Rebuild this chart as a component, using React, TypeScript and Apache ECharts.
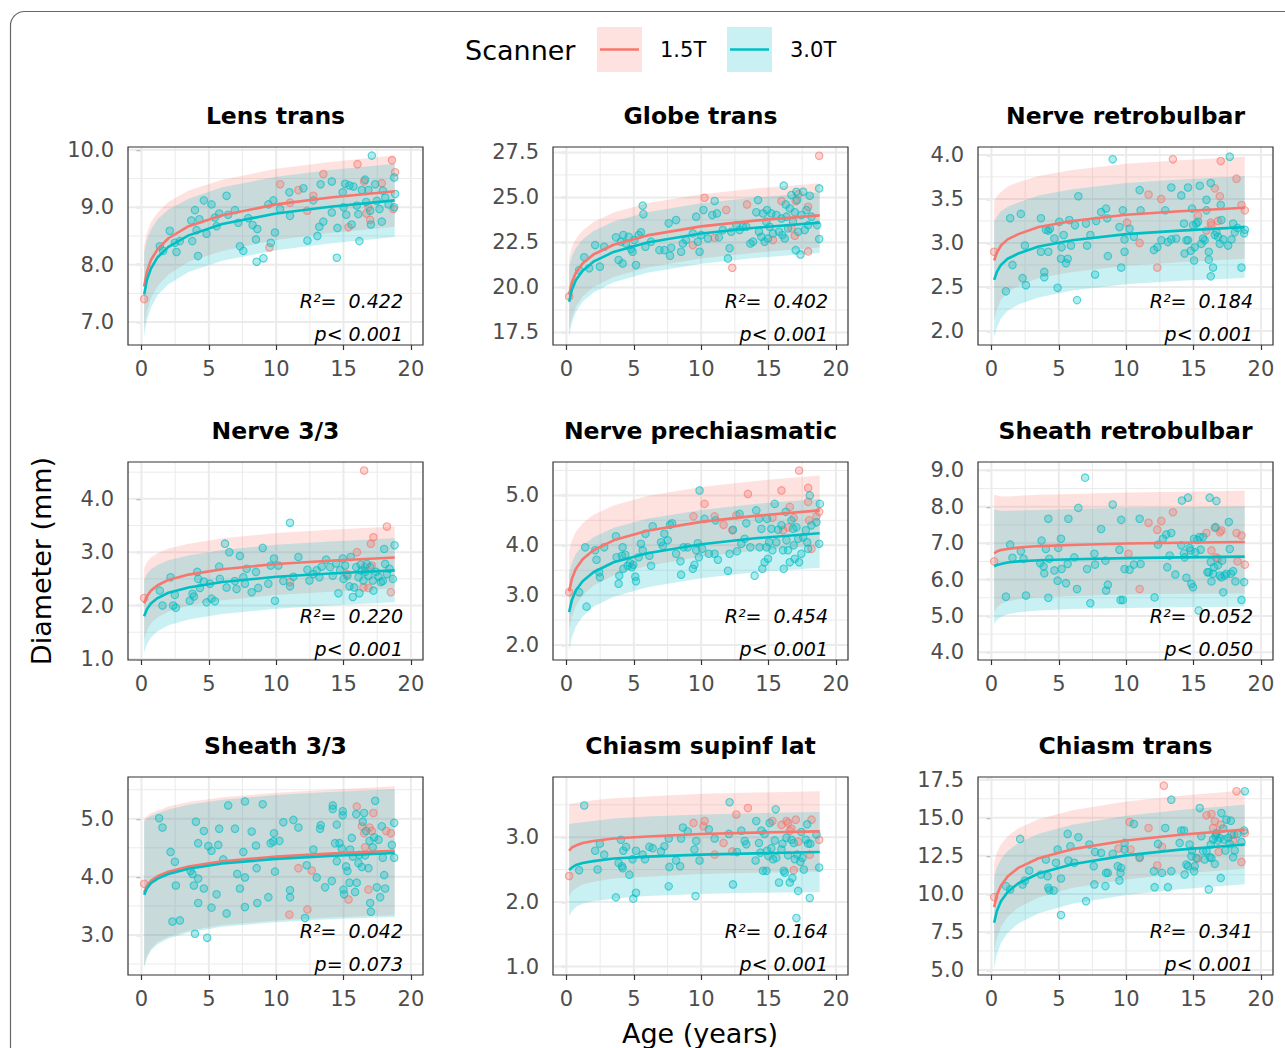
import React, { useEffect, useRef } from "react";
import * as echarts from "echarts";

const FONT = "'DejaVu Sans', 'Noto Sans', sans-serif";
const RED = "#F8766D";
const TEAL = "#00BFC4";
const RED_BAND = "rgba(248,118,109,0.21)";
const TEAL_BAND = "rgba(0,191,196,0.21)";

// ---------- shared axes ----------
const AGES = [0.2, 0.4, 0.7, 1.2, 2, 3.5, 6, 10, 14, 18.8];
const X_TICKS = [0, 5, 10, 15, 20];
const X_RANGE = [-1.0, 20.9];

// ---------- Lens trans ----------
const LENS_RANGE = [6.6, 10.05];
const LENS_TICKS = [7, 8, 9, 10];
const LENS_F15 = [7.62, 7.87, 8.08, 8.27, 8.46, 8.67, 8.86, 9.05, 9.17, 9.28];
const LENS_L15 = [6.91, 7.19, 7.42, 7.63, 7.83, 8.05, 8.24, 8.43, 8.55, 8.66];
const LENS_H15 = [8.33, 8.55, 8.74, 8.91, 9.09, 9.29, 9.48, 9.67, 9.79, 9.9];
const LENS_F30 = [7.48, 7.73, 7.93, 8.13, 8.31, 8.51, 8.71, 8.89, 9.01, 9.12];
const LENS_L30 = [6.74, 7.03, 7.25, 7.47, 7.66, 7.87, 8.07, 8.25, 8.37, 8.48];
const LENS_H30 = [8.22, 8.43, 8.61, 8.79, 8.96, 9.15, 9.35, 9.53, 9.65, 9.76];
const LENS_P15 = [[0.2,7.4],[9.5,8.3],[10.3,9.4],[11.03,9.08],[11.65,9.3],[12.3,8.94],[12.76,9.2],[13.5,9.58],[15.37,8.65],[16.04,9.75],[16.53,9.45],[16.85,9.0],[16.98,8.78],[17.84,9.42],[18.6,9.82],[18.83,9.61],[18.7,8.97],[16.7,8.89]];
const LENS_P30 = [[1.36,8.32],[1.61,8.24],[2.1,8.59],[2.48,8.38],[2.6,8.22],[2.85,8.41],[3.7,8.77],[3.77,8.41],[3.97,8.95],[4.09,8.6],[4.2,8.15],[4.3,8.79],[4.63,9.12],[4.83,8.54],[5.2,9.05],[5.45,8.82],[5.58,8.67],[5.77,8.89],[6.32,9.2],[6.44,8.87],[6.94,8.95],[7.19,8.73],[7.31,8.32],[7.56,8.24],[7.93,8.81],[8.25,8.69],[8.5,8.44],[8.55,8.05],[8.6,8.62],[9.05,8.11],[9.42,9.05],[9.6,8.38],[9.79,9.12],[9.91,8.56],[10.29,8.97],[10.98,9.26],[11.03,8.85],[12.02,9.33],[12.32,8.42],[12.76,9.12],[13.06,8.5],[13.2,8.66],[13.3,9.4],[13.5,8.75],[14.13,9.45],[14.13,8.91],[14.5,8.12],[14.55,8.64],[14.94,9.26],[15.0,9.0],[15.12,9.41],[15.2,8.87],[15.44,9.38],[15.6,8.7],[15.74,9.36],[15.98,9.03],[16.1,8.88],[16.18,8.41],[16.36,9.3],[16.6,9.48],[16.68,9.09],[16.85,9.3],[16.98,8.94],[17.03,8.7],[17.1,9.9],[17.35,9.4],[17.47,9.11],[17.67,8.97],[17.84,8.75],[17.92,9.29],[18.1,9.17],[18.34,9.05],[18.76,9.52],[18.76,9.0],[18.83,9.23]];

// ---------- Globe trans ----------
const GLOBE_RANGE = [16.8, 27.8];
const GLOBE_TICKS = [17.5, 20, 22.5, 25, 27.5];
const GLOBE_F15 = [19.6, 20.27, 20.81, 21.33, 21.83, 22.37, 22.89, 23.39, 23.71, 24.0];
const GLOBE_L15 = [17.55, 18.31, 18.92, 19.5, 20.02, 20.58, 21.11, 21.61, 21.93, 22.21];
const GLOBE_H15 = [21.65, 22.23, 22.7, 23.16, 23.64, 24.16, 24.67, 25.17, 25.49, 25.79];
const GLOBE_F30 = [19.2, 19.87, 20.41, 20.93, 21.43, 21.97, 22.49, 22.99, 23.31, 23.6];
const GLOBE_L30 = [17.27, 18.02, 18.63, 19.2, 19.72, 20.28, 20.81, 21.31, 21.63, 21.91];
const GLOBE_H30 = [21.13, 21.72, 22.19, 22.66, 23.14, 23.66, 24.17, 24.67, 24.99, 25.29];
const GLOBE_P15 = [[0.2,19.5],[9.38,22.35],[10.25,24.98],[11.0,22.76],[11.86,24.3],[12.31,21.09],[13.4,24.61],[15.33,22.63],[15.96,24.8],[16.7,23.28],[17.02,24.8],[17.2,25.17],[16.95,22.87],[17.94,22.0],[17.94,24.48],[18.76,27.31]];
const GLOBE_P30 = [[0.94,20.96],[1.32,21.67],[1.69,21.06],[2.13,22.35],[2.48,21.15],[2.8,22.26],[3.67,22.78],[3.87,21.52],[4.04,22.54],[4.17,21.33],[4.22,22.91],[4.42,22.44],[4.62,22.81],[4.79,22.13],[4.91,21.98],[5.04,22.63],[5.16,21.24],[5.36,22.91],[5.53,23.06],[5.66,24.54],[5.71,24.06],[5.86,22.26],[6.28,22.54],[6.9,22.07],[7.27,22.07],[7.59,23.56],[7.69,21.76],[7.77,22.2],[8.14,23.74],[8.51,21.98],[8.64,22.44],[8.88,22.63],[9.38,23.0],[9.63,23.93],[9.75,22.54],[9.88,21.98],[10.0,22.91],[10.17,24.3],[10.5,22.72],[10.82,24.02],[11.0,24.8],[11.17,24.11],[11.32,22.78],[11.61,23.19],[11.99,21.61],[12.11,22.17],[12.23,23.09],[12.61,23.46],[12.85,23.19],[13.1,23.37],[13.35,23.37],[13.65,22.44],[13.85,22.54],[14.09,24.17],[14.22,24.85],[14.29,23.09],[14.47,22.81],[14.59,24.11],[14.71,22.54],[14.84,23.65],[14.89,24.3],[14.96,22.72],[15.09,23.37],[15.21,24.11],[15.33,23.0],[15.58,24.02],[15.78,23.09],[15.96,23.83],[16.03,22.91],[16.13,25.65],[16.2,22.72],[16.28,24.61],[16.33,23.93],[16.45,23.28],[16.58,24.39],[16.7,25.13],[16.82,23.65],[16.95,24.17],[17.02,22.07],[17.07,25.31],[17.12,24.85],[17.2,23.09],[17.37,21.83],[17.44,24.02],[17.57,25.31],[17.69,23.19],[17.82,24.3],[17.94,23.46],[18.06,25.09],[18.19,23.93],[18.61,23.46],[18.76,25.5],[18.76,22.69]];

// ---------- Nerve retrobulbar ----------
const NRB_RANGE = [1.84, 4.09];
const NRB_TICKS = [2, 2.5, 3, 3.5, 4];
const NRB_F15 = [2.8, 2.89, 2.97, 3.04, 3.1, 3.18, 3.25, 3.32, 3.36, 3.4];
const NRB_L15 = [2.13, 2.25, 2.35, 2.44, 2.51, 2.6, 2.67, 2.74, 2.78, 2.82];
const NRB_H15 = [3.47, 3.53, 3.58, 3.64, 3.69, 3.76, 3.83, 3.9, 3.94, 3.98];
const NRB_F30 = [2.58, 2.67, 2.75, 2.82, 2.88, 2.96, 3.03, 3.1, 3.14, 3.18];
const NRB_L30 = [1.92, 2.04, 2.14, 2.23, 2.3, 2.38, 2.46, 2.53, 2.57, 2.6];
const NRB_H30 = [3.24, 3.3, 3.36, 3.41, 3.46, 3.54, 3.61, 3.68, 3.72, 3.76];
const NRB_P15 = [[0.2,2.9],[10.07,3.23],[11.0,3.0],[11.66,3.55],[12.6,3.5],[12.31,2.72],[13.47,3.95],[15.33,3.31],[15.96,3.14],[16.33,3.2],[16.58,3.62],[16.82,3.25],[16.95,3.53],[17.02,3.93],[18.19,3.73],[18.56,3.43],[18.81,3.37],[16.28,3.23]];
const NRB_P30 = [[1.07,2.45],[1.39,3.28],[1.56,2.75],[2.18,3.33],[2.31,2.6],[2.48,2.97],[2.56,2.52],[3.67,3.28],[3.67,2.9],[3.92,2.67],[3.92,2.61],[4.04,3.15],[4.22,3.14],[4.22,2.9],[4.34,3.16],[4.67,3.05],[4.91,2.49],[5.04,3.24],[5.16,2.82],[5.21,2.95],[5.36,3.09],[5.53,2.77],[5.66,2.82],[5.78,3.26],[5.9,2.97],[6.2,3.2],[6.35,2.35],[6.45,3.53],[7.02,3.22],[7.1,2.97],[7.34,3.09],[7.69,2.64],[7.77,3.25],[8.14,3.35],[8.51,3.39],[8.59,3.28],[8.64,2.85],[9.0,3.95],[9.5,3.18],[9.63,2.72],[9.75,3.37],[9.88,3.04],[9.88,2.9],[10.25,3.16],[10.57,3.07],[11.0,3.6],[11.07,3.37],[12.06,2.92],[12.31,2.95],[12.61,3.03],[12.9,3.37],[13.1,3.01],[13.35,3.63],[13.35,3.04],[13.72,3.05],[14.09,3.54],[14.29,3.22],[14.34,2.88],[14.47,3.03],[14.59,3.63],[14.59,3.03],[14.79,2.91],[14.89,3.39],[14.96,3.2],[15.04,2.8],[15.09,2.95],[15.21,3.22],[15.33,3.24],[15.46,3.65],[15.58,2.99],[15.71,3.05],[15.83,3.03],[15.96,3.49],[15.96,3.37],[16.13,2.9],[16.13,2.81],[16.28,3.68],[16.28,2.62],[16.45,2.72],[16.58,3.09],[16.7,3.12],[16.82,3.07],[16.95,2.99],[17.02,3.43],[17.07,3.26],[17.2,3.04],[17.57,2.97],[17.69,3.98],[17.82,3.04],[17.94,3.22],[18.06,3.12],[18.26,3.17],[18.56,2.72],[18.76,3.11],[18.81,3.15]];

// ---------- Nerve 3/3 ----------
const N33_RANGE = [0.98, 4.69];
const N33_TICKS = [1, 2, 3, 4];
const N33_F15 = [2.04, 2.17, 2.28, 2.38, 2.48, 2.58, 2.68, 2.78, 2.84, 2.9];
const N33_L15 = [1.37, 1.53, 1.67, 1.78, 1.89, 2.0, 2.1, 2.2, 2.26, 2.32];
const N33_H15 = [2.71, 2.81, 2.9, 2.98, 3.07, 3.16, 3.26, 3.36, 3.42, 3.48];
const N33_F30 = [1.8, 1.93, 2.04, 2.14, 2.24, 2.34, 2.44, 2.54, 2.6, 2.66];
const N33_L30 = [1.11, 1.27, 1.4, 1.52, 1.63, 1.74, 1.84, 1.94, 2.0, 2.06];
const N33_H30 = [2.49, 2.59, 2.68, 2.76, 2.85, 2.94, 3.04, 3.14, 3.2, 3.26];
const N33_P15 = [[0.2,2.14],[11.03,2.44],[15.24,2.59],[16.0,3.0],[16.53,4.53],[16.48,2.34],[16.85,2.33],[17.03,3.16],[17.22,3.28],[17.1,2.75],[18.22,3.48],[18.51,2.25],[16.6,2.72]];
const N33_P30 = [[1.36,2.28],[1.56,2.0],[2.16,2.53],[2.35,2.0],[2.48,2.2],[2.55,1.96],[3.59,2.09],[3.79,2.22],[3.89,2.17],[4.14,2.63],[4.21,2.5],[4.34,2.33],[4.63,2.45],[4.83,2.06],[5.08,2.41],[5.2,2.13],[5.45,2.08],[5.77,2.73],[5.82,2.5],[6.2,3.16],[6.32,2.34],[6.52,3.0],[6.94,2.46],[7.06,2.31],[7.31,2.93],[7.56,2.53],[7.68,2.41],[7.81,2.69],[8.18,2.25],[8.5,2.63],[8.67,2.33],[9.0,3.08],[9.42,2.41],[9.59,2.75],[9.84,2.88],[9.91,2.09],[10.16,2.75],[10.53,2.46],[11.03,2.36],[11.03,3.55],[11.28,2.54],[11.65,2.91],[12.32,2.67],[12.47,2.47],[12.76,2.59],[13.01,2.66],[13.21,2.53],[13.38,2.73],[13.71,2.86],[14.0,2.72],[14.2,2.56],[14.45,2.79],[14.62,2.23],[14.75,2.66],[14.94,2.88],[15.0,2.5],[15.12,2.75],[15.29,2.56],[15.44,2.36],[15.54,2.91],[15.69,2.16],[15.79,2.34],[15.94,2.72],[16.11,2.53],[16.18,2.23],[16.28,2.77],[16.36,2.66],[16.48,2.47],[16.6,2.63],[16.73,2.78],[16.85,2.56],[16.98,2.72],[17.17,2.47],[17.22,2.28],[17.42,2.63],[17.6,2.54],[17.77,2.44],[17.92,2.46],[18.02,3.06],[18.09,2.78],[18.22,2.59],[18.41,2.69],[18.66,2.5],[18.79,3.13]];

// ---------- Nerve prechiasmatic ----------
const NPC_RANGE = [1.7, 5.67];
const NPC_TICKS = [2, 3, 4, 5];
const NPC_F15 = [3.08, 3.33, 3.53, 3.72, 3.9, 4.1, 4.29, 4.47, 4.59, 4.7];
const NPC_L15 = [2.28, 2.56, 2.79, 3.0, 3.19, 3.4, 3.59, 3.77, 3.89, 4.0];
const NPC_H15 = [3.89, 4.1, 4.27, 4.44, 4.61, 4.8, 4.99, 5.17, 5.29, 5.4];
const NPC_F30 = [2.66, 2.9, 3.1, 3.28, 3.46, 3.66, 3.84, 4.02, 4.14, 4.24];
const NPC_L30 = [1.87, 2.15, 2.37, 2.57, 2.77, 2.97, 3.16, 3.34, 3.46, 3.55];
const NPC_H30 = [3.45, 3.65, 3.83, 3.99, 4.16, 4.35, 4.53, 4.71, 4.83, 4.93];
const NPC_P15 = [[0.2,3.06],[9.43,4.58],[10.25,4.83],[11.0,4.58],[11.66,4.41],[12.31,4.3],[12.61,4.6],[13.47,5.03],[15.29,4.55],[15.96,5.1],[16.08,4.3],[16.45,4.36],[16.58,4.77],[16.87,4.55],[17.27,5.5],[17.94,5.15],[17.94,4.87],[18.01,4.5],[18.19,3.93],[18.56,4.58],[18.76,4.67]];
const NPC_P30 = [[0.94,3.06],[1.39,3.96],[1.49,2.77],[2.13,3.9],[2.23,3.71],[2.43,3.46],[2.48,3.36],[2.8,3.96],[3.67,4.18],[3.72,3.76],[3.87,3.23],[3.92,3.39],[4.12,3.79],[4.17,3.96],[4.22,3.53],[4.37,3.81],[4.54,3.59],[4.71,3.64],[4.86,3.56],[4.96,3.61],[5.11,3.37],[5.16,3.28],[5.36,3.76],[5.53,4.03],[5.66,3.9],[5.86,4.23],[6.15,3.79],[6.28,3.59],[6.4,4.38],[7.02,4.06],[7.15,3.99],[7.27,4.23],[7.52,4.1],[7.69,4.41],[7.84,4.44],[8.14,3.83],[8.46,3.68],[8.51,3.41],[8.69,3.96],[9.0,3.96],[9.38,3.53],[9.5,3.61],[9.63,3.9],[9.75,4.04],[9.83,3.76],[9.88,5.1],[10.07,3.93],[10.25,4.53],[10.57,3.83],[11.0,3.83],[11.07,4.5],[11.24,3.71],[11.99,3.49],[12.11,3.83],[12.36,4.31],[12.66,3.88],[12.85,4.63],[12.98,4.03],[13.23,4.13],[13.35,4.44],[13.65,3.96],[13.97,3.39],[14.09,4.7],[14.29,4.53],[14.34,3.96],[14.47,4.33],[14.54,3.53],[14.71,3.66],[14.84,3.96],[14.89,4.53],[14.96,3.73],[15.04,4.06],[15.21,4.33],[15.29,3.9],[15.46,4.83],[15.58,4.06],[15.71,4.31],[15.96,4.4],[16.08,3.9],[16.13,3.53],[16.28,4.67],[16.33,4.1],[16.45,3.9],[16.58,3.66],[16.7,4.5],[16.82,4.33],[16.87,4.0],[16.95,3.73],[17.07,4.36],[17.2,4.13],[17.27,3.66],[17.44,3.83],[17.57,4.16],[17.77,4.3],[17.87,4.06],[17.94,3.93],[18.06,5.0],[18.19,4.4],[18.56,4.46],[18.76,4.03],[18.81,4.83]];

// ---------- Sheath retrobulbar ----------
const SRB_RANGE = [3.79, 9.23];
const SRB_TICKS = [4, 5, 6, 7, 8, 9];
const SRB_F15 = [6.72, 6.77, 6.81, 6.84, 6.88, 6.92, 6.95, 6.99, 7.01, 7.03];
const SRB_L15 = [5.11, 5.23, 5.33, 5.4, 5.46, 5.51, 5.55, 5.59, 5.61, 5.62];
const SRB_H15 = [8.33, 8.31, 8.29, 8.28, 8.3, 8.33, 8.35, 8.39, 8.41, 8.44];
const SRB_F30 = [6.36, 6.4, 6.43, 6.47, 6.5, 6.53, 6.56, 6.59, 6.61, 6.63];
const SRB_L30 = [4.78, 4.89, 4.97, 5.05, 5.1, 5.15, 5.19, 5.22, 5.24, 5.25];
const SRB_H30 = [7.94, 7.91, 7.89, 7.89, 7.9, 7.91, 7.94, 7.97, 7.99, 8.01];
const SRB_P15 = [[0.2,6.5],[10.17,6.71],[11.0,5.74],[11.66,7.56],[12.31,7.37],[12.61,7.61],[13.47,7.85],[15.96,7.28],[16.33,6.8],[16.58,7.42],[16.82,6.57],[16.95,7.3],[17.07,7.35],[18.19,7.28],[18.26,6.5],[18.56,7.21],[18.81,6.41],[16.7,6.61]];
const SRB_P30 = [[1.07,5.53],[1.39,6.96],[1.56,6.6],[2.18,6.78],[2.38,6.57],[2.56,5.56],[3.62,6.45],[3.72,7.07],[3.87,6.36],[3.92,6.17],[4.04,6.84],[4.22,7.67],[4.22,5.5],[4.29,6.57],[4.67,6.25],[4.91,5.97],[4.96,6.87],[5.16,7.12],[5.21,6.29],[5.53,5.9],[5.66,6.43],[5.71,7.67],[6.15,6.61],[6.35,5.74],[6.45,7.97],[6.95,8.8],[7.1,6.29],[7.34,5.35],[7.64,6.71],[7.69,6.41],[8.14,7.39],[8.46,6.52],[8.51,5.7],[8.64,5.86],[9.0,8.06],[9.5,6.82],[9.58,5.44],[9.63,7.64],[9.75,5.44],[9.88,6.29],[10.25,6.27],[10.57,6.41],[11.0,7.67],[11.07,6.43],[12.11,5.51],[12.36,6.96],[12.73,7.12],[12.98,7.24],[13.05,6.34],[13.23,6.66],[13.35,7.28],[13.65,6.14],[14.09,6.94],[14.14,8.17],[14.29,6.72],[14.34,6.61],[14.47,6.05],[14.59,8.25],[14.71,6.87],[14.79,6.8],[14.84,5.88],[14.96,5.79],[15.04,7.12],[15.14,6.75],[15.29,7.09],[15.38,5.15],[15.46,7.17],[15.53,6.82],[15.71,7.17],[16.03,6.2],[16.13,6.2],[16.2,8.25],[16.28,6.48],[16.33,5.95],[16.45,6.16],[16.53,6.34],[16.63,7.44],[16.7,8.16],[16.82,6.39],[16.95,6.11],[17.07,6.06],[17.12,6.52],[17.2,5.65],[17.32,6.11],[17.44,6.16],[17.62,7.58],[17.69,6.84],[17.77,6.16],[17.94,6.23],[18.11,5.95],[18.56,5.44],[18.76,5.93]];

// ---------- Sheath 3/3 ----------
const S33_RANGE = [2.31, 5.72];
const S33_TICKS = [3, 4, 5];
const S33_F15 = [3.73, 3.84, 3.93, 4.01, 4.09, 4.18, 4.27, 4.35, 4.4, 4.45];
const S33_L15 = [2.47, 2.63, 2.76, 2.88, 2.97, 3.07, 3.17, 3.25, 3.3, 3.34];
const S33_H15 = [5.0, 5.05, 5.1, 5.14, 5.21, 5.29, 5.37, 5.45, 5.5, 5.56];
const S33_F30 = [3.69, 3.8, 3.89, 3.97, 4.05, 4.14, 4.23, 4.31, 4.36, 4.41];
const S33_L30 = [2.43, 2.6, 2.73, 2.84, 2.94, 3.04, 3.14, 3.22, 3.27, 3.31];
const S33_H30 = [4.95, 5.01, 5.05, 5.1, 5.16, 5.24, 5.33, 5.41, 5.46, 5.51];
const S33_P15 = [[0.2,3.88],[10.98,3.35],[11.65,4.15],[12.32,3.44],[12.64,4.11],[15.37,3.61],[15.98,5.21],[16.36,4.87],[16.53,4.75],[16.6,4.51],[16.85,3.78],[16.93,4.85],[17.1,4.79],[17.22,5.1],[18.17,4.79],[18.51,4.75]];
const S33_P30 = [[1.31,5.01],[1.56,4.85],[2.16,4.43],[2.3,3.23],[2.48,4.26],[2.55,3.85],[2.85,3.25],[3.64,4.1],[3.79,4.05],[3.89,3.85],[3.97,3.02],[4.04,4.95],[4.21,3.97],[4.21,4.58],[4.21,3.55],[4.63,4.79],[4.63,3.8],[4.96,4.53],[4.88,2.95],[5.2,3.47],[5.2,4.45],[5.58,3.7],[5.77,4.83],[5.7,4.55],[6.07,4.3],[6.32,3.37],[6.44,5.23],[6.94,4.83],[7.11,4.05],[7.31,3.8],[7.56,4.43],[7.68,5.3],[7.68,3.48],[7.68,3.99],[8.18,4.78],[8.5,4.54],[8.55,4.15],[8.6,3.55],[9.0,5.25],[9.42,3.65],[9.59,4.58],[9.79,4.61],[9.84,4.75],[9.91,4.09],[10.24,4.62],[10.53,4.94],[11.03,3.77],[11.03,3.65],[11.28,4.98],[11.65,4.85],[12.27,4.2],[12.14,3.29],[12.76,4.47],[13.01,3.99],[13.26,4.83],[13.31,4.89],[13.63,3.82],[14.13,3.93],[14.2,5.23],[14.2,5.17],[14.37,4.58],[14.5,4.9],[14.5,4.27],[14.7,4.58],[14.87,4.49],[14.94,5.13],[14.94,5.06],[15.0,3.78],[15.04,3.7],[15.19,4.18],[15.29,4.1],[15.44,3.9],[15.49,4.47],[15.61,4.67],[15.69,4.35],[15.86,3.74],[15.94,5.08],[15.98,3.9],[16.11,4.24],[16.18,4.38],[16.36,4.17],[16.43,4.95],[16.53,5.1],[16.6,4.37],[16.68,4.79],[16.85,4.15],[16.93,4.62],[16.98,3.55],[17.03,3.4],[17.17,4.51],[17.27,4.68],[17.35,5.31],[17.47,3.82],[17.6,4.64],[17.72,3.65],[17.84,4.87],[17.92,4.33],[18.02,4.03],[18.09,3.8],[18.59,4.55],[18.76,4.93],[18.76,4.33]];

// ---------- Chiasm supinf lat ----------
const CSL_RANGE = [0.87, 3.93];
const CSL_TICKS = [1, 2, 3];
const CSL_F15 = [2.79, 2.84, 2.87, 2.91, 2.94, 2.98, 3.01, 3.05, 3.07, 3.09];
const CSL_L15 = [2.08, 2.16, 2.21, 2.27, 2.31, 2.36, 2.39, 2.43, 2.45, 2.47];
const CSL_H15 = [3.5, 3.52, 3.53, 3.55, 3.57, 3.6, 3.63, 3.67, 3.69, 3.71];
const CSL_F30 = [2.49, 2.53, 2.57, 2.6, 2.63, 2.67, 2.7, 2.73, 2.75, 2.77];
const CSL_L30 = [1.78, 1.85, 1.92, 1.97, 2.01, 2.05, 2.09, 2.12, 2.14, 2.15];
const CSL_H30 = [3.2, 3.21, 3.22, 3.23, 3.25, 3.29, 3.32, 3.35, 3.37, 3.39];
const CSL_P15 = [[0.2,2.4],[9.43,3.22],[10.25,3.25],[10.17,3.17],[11.0,2.73],[11.66,2.91],[12.31,2.78],[12.61,3.35],[13.47,3.45],[15.29,3.25],[15.96,3.19],[16.33,3.25],[16.45,3.22],[16.58,3.1],[16.7,3.13],[16.87,2.49],[17.02,3.27],[17.2,2.93],[18.06,2.73],[18.19,3.27],[18.76,2.96]];
const CSL_P30 = [[0.94,2.49],[1.32,3.49],[2.13,2.79],[2.31,2.5],[2.48,2.9],[2.8,2.73],[3.67,2.07],[3.87,2.6],[4.04,2.96],[4.12,2.55],[4.17,2.52],[4.22,2.79],[4.42,2.85],[4.67,2.42],[4.91,2.66],[4.96,2.05],[5.16,2.14],[5.16,2.79],[5.66,2.73],[5.83,2.66],[6.15,2.85],[6.4,2.83],[7.02,2.78],[7.27,2.86],[7.59,2.98],[7.64,2.54],[7.59,2.24],[8.14,2.64],[8.44,2.55],[8.51,2.98],[8.64,3.15],[9.0,3.09],[9.5,2.81],[9.58,2.09],[9.63,2.94],[9.88,2.64],[10.57,3.12],[11.0,2.98],[12.06,3.05],[12.11,3.54],[12.36,2.27],[12.66,2.77],[12.98,3.1],[13.23,2.94],[13.35,2.89],[14.04,2.64],[14.09,3.25],[14.29,2.91],[14.39,2.76],[14.47,3.1],[14.59,2.48],[14.71,3.05],[14.84,2.48],[14.89,2.79],[14.99,2.71],[15.09,3.22],[15.21,2.83],[15.33,2.66],[15.46,2.95],[15.53,3.43],[15.58,2.68],[15.78,2.3],[15.96,2.81],[16.03,2.9],[16.13,2.48],[16.2,2.45],[16.33,2.99],[16.45,2.72],[16.58,2.3],[16.7,2.96],[16.77,2.37],[16.87,2.91],[16.95,2.66],[17.07,1.75],[17.12,2.73],[17.2,2.17],[17.37,2.62],[17.44,3.08],[17.52,2.68],[17.62,2.5],[17.77,2.96],[17.87,3.2],[17.94,2.9],[18.06,2.06],[18.11,2.9],[18.56,3.04],[18.76,2.53]];

// ---------- Chiasm trans ----------
const CT_RANGE = [4.67, 17.68];
const CT_TICKS = [5, 7.5, 10, 12.5, 15, 17.5];
const CT_F15 = [9.13, 9.91, 10.53, 11.14, 11.71, 12.34, 12.94, 13.51, 13.89, 14.22];
const CT_L15 = [6.19, 7.09, 7.82, 8.5, 9.11, 9.77, 10.38, 10.95, 11.33, 11.65];
const CT_H15 = [12.07, 12.73, 13.24, 13.78, 14.31, 14.91, 15.5, 16.07, 16.45, 16.79];
const CT_F30 = [8.1, 8.88, 9.52, 10.13, 10.7, 11.34, 11.95, 12.53, 12.91, 13.24];
const CT_L30 = [5.11, 6.02, 6.76, 7.45, 8.06, 8.73, 9.35, 9.93, 10.31, 10.63];
const CT_H30 = [11.09, 11.74, 12.28, 12.81, 13.34, 13.95, 14.55, 15.13, 15.51, 15.85];
const CT_P15 = [[0.2,9.79],[9.43,12.98],[10.25,14.72],[10.32,12.91],[11.0,12.36],[11.66,14.33],[12.31,11.86],[12.66,13.09],[12.8,17.11],[15.33,12.32],[15.96,15.16],[16.33,15.25],[16.45,14.33],[16.58,14.77],[16.7,13.9],[16.87,12.76],[17.02,14.55],[17.94,13.5],[18.19,16.74],[18.56,12.1],[18.81,14.0],[18.01,13.89]];
const CT_P30 = [[1.07,10.51],[1.39,10.29],[2.13,13.61],[2.31,10.62],[2.48,10.88],[2.8,11.53],[3.67,11.27],[4.04,12.26],[4.17,11.16],[4.22,10.4],[4.29,10.24],[4.62,10.22],[4.79,12.04],[4.91,12.91],[5.16,11.01],[5.16,8.61],[5.66,13.94],[5.71,12.19],[5.86,13.13],[6.15,12.04],[6.45,13.72],[7.02,9.52],[7.27,13.24],[7.59,11.82],[7.64,10.62],[7.69,12.76],[8.14,12.69],[8.46,10.51],[8.51,11.38],[8.64,11.38],[9.0,12.63],[9.38,11.82],[9.5,10.88],[9.58,11.38],[9.63,11.71],[9.88,12.91],[9.88,13.35],[10.57,14.59],[11.0,12.41],[12.06,11.49],[12.11,10.44],[12.36,13.28],[12.66,11.38],[12.9,14.33],[13.1,10.44],[13.35,11.49],[13.35,16.19],[13.97,13.35],[14.09,14.16],[14.29,14.16],[14.34,11.27],[14.47,11.93],[14.59,11.82],[14.71,13.24],[14.84,12.47],[14.89,12.85],[15.04,11.49],[15.09,11.82],[15.21,12.36],[15.46,15.64],[15.58,13.79],[15.71,12.8],[15.83,12.26],[15.96,12.8],[16.13,10.29],[16.2,12.41],[16.28,13.24],[16.33,12.36],[16.45,13.57],[16.58,11.97],[16.63,13.79],[16.7,14.0],[16.82,13.5],[16.95,13.68],[17.02,11.05],[17.07,15.31],[17.2,14.29],[17.27,13.57],[17.37,12.85],[17.44,14.88],[17.57,13.68],[17.69,13.28],[17.77,14.81],[17.82,13.9],[17.94,12.41],[18.06,12.85],[18.26,13.94],[18.56,13.41],[18.76,14.16],[18.81,16.74]];

// ---------- panel table ----------
const PANELS = [
  { title: "Lens trans", range: LENS_RANGE, ticks: LENS_TICKS, r2: "0.422", p: "p< 0.001", p15: LENS_P15, p30: LENS_P30, f15: LENS_F15, l15: LENS_L15, h15: LENS_H15, f30: LENS_F30, l30: LENS_L30, h30: LENS_H30 },
  { title: "Globe trans", range: GLOBE_RANGE, ticks: GLOBE_TICKS, r2: "0.402", p: "p< 0.001", p15: GLOBE_P15, p30: GLOBE_P30, f15: GLOBE_F15, l15: GLOBE_L15, h15: GLOBE_H15, f30: GLOBE_F30, l30: GLOBE_L30, h30: GLOBE_H30 },
  { title: "Nerve retrobulbar", range: NRB_RANGE, ticks: NRB_TICKS, r2: "0.184", p: "p< 0.001", p15: NRB_P15, p30: NRB_P30, f15: NRB_F15, l15: NRB_L15, h15: NRB_H15, f30: NRB_F30, l30: NRB_L30, h30: NRB_H30 },
  { title: "Nerve 3/3", range: N33_RANGE, ticks: N33_TICKS, r2: "0.220", p: "p< 0.001", p15: N33_P15, p30: N33_P30, f15: N33_F15, l15: N33_L15, h15: N33_H15, f30: N33_F30, l30: N33_L30, h30: N33_H30 },
  { title: "Nerve prechiasmatic", range: NPC_RANGE, ticks: NPC_TICKS, r2: "0.454", p: "p< 0.001", p15: NPC_P15, p30: NPC_P30, f15: NPC_F15, l15: NPC_L15, h15: NPC_H15, f30: NPC_F30, l30: NPC_L30, h30: NPC_H30 },
  { title: "Sheath retrobulbar", range: SRB_RANGE, ticks: SRB_TICKS, r2: "0.052", p: "p< 0.050", p15: SRB_P15, p30: SRB_P30, f15: SRB_F15, l15: SRB_L15, h15: SRB_H15, f30: SRB_F30, l30: SRB_L30, h30: SRB_H30 },
  { title: "Sheath 3/3", range: S33_RANGE, ticks: S33_TICKS, r2: "0.042", p: "p= 0.073", p15: S33_P15, p30: S33_P30, f15: S33_F15, l15: S33_L15, h15: S33_H15, f30: S33_F30, l30: S33_L30, h30: S33_H30 },
  { title: "Chiasm supinf lat", range: CSL_RANGE, ticks: CSL_TICKS, r2: "0.164", p: "p< 0.001", p15: CSL_P15, p30: CSL_P30, f15: CSL_F15, l15: CSL_L15, h15: CSL_H15, f30: CSL_F30, l30: CSL_L30, h30: CSL_H30 },
  { title: "Chiasm trans", range: CT_RANGE, ticks: CT_TICKS, r2: "0.341", p: "p< 0.001", p15: CT_P15, p30: CT_P30, f15: CT_F15, l15: CT_L15, h15: CT_H15, f30: CT_F30, l30: CT_L30, h30: CT_H30 },
];

// ---------- layout ----------
const COL_LEFT = [128, 553, 978];
const ROW_TOP = [147, 462, 777];
const GW = 295;
const GH = 198;

function minorValues(ticks: number[], range: number[]) {
  const step = ticks[1] - ticks[0];
  const out: number[] = [];
  for (let k = -2; k < ticks.length + 2; k++) {
    const v = ticks[0] + (k + 0.5) * step;
    if (v > range[0] && v < range[1]) out.push(v);
  }
  return out;
}

function buildOption() {
  const grid: any[] = [];
  const xAxis: any[] = [];
  const yAxis: any[] = [];
  const series: any[] = [];
  const graphic: any[] = [];

  PANELS.forEach((p, i) => {
    const col = i % 3;
    const row = Math.floor(i / 3);
    const left = COL_LEFT[col];
    const top = ROW_TOP[row];

    grid.push({
      left, top, width: GW, height: GH, show: true, z: 10,
      borderColor: "#333333", borderWidth: 1.2, backgroundColor: "rgba(0,0,0,0)",
    });
    xAxis.push({
      type: "value", gridIndex: i, min: X_RANGE[0], max: X_RANGE[1],
      splitLine: { show: false }, axisLine: { show: false },
      axisTick: { show: true, length: 5, lineStyle: { color: "#333333", width: 1.2 }, customValues: X_TICKS },
      axisLabel: { customValues: X_TICKS, color: "#4D4D4D", fontSize: 21, fontFamily: FONT, margin: 13, formatter: (v: number) => String(v) },
    });
    yAxis.push({
      type: "value", gridIndex: i, min: p.range[0], max: p.range[1],
      splitLine: { show: false }, axisLine: { show: false },
      axisTick: { show: true, length: 5, lineStyle: { color: "#333333", width: 1.2 }, customValues: p.ticks },
      axisLabel: { customValues: p.ticks, color: "#4D4D4D", fontSize: 21, fontFamily: FONT, margin: 14, formatter: (v: number) => v.toFixed(1) },
    });

    const yMinor = minorValues(p.ticks, p.range);
    const xMinor = minorValues(X_TICKS, X_RANGE);
    // grid lines drawn through the axes' scales
    series.push({
      type: "custom", xAxisIndex: i, yAxisIndex: i, z: 1, silent: true,
      data: [[0, p.range[0]]],
      renderItem: (params: any, api: any) => {
        const children: any[] = [];
        const h = (v: number, w: number) => {
          const a = api.coord([X_RANGE[0], v]);
          const b = api.coord([X_RANGE[1], v]);
          children.push({ type: "line", shape: { x1: a[0], y1: a[1], x2: b[0], y2: b[1] }, style: { stroke: "#EBEBEB", lineWidth: w } });
        };
        const vl = (v: number, w: number) => {
          const a = api.coord([v, p.range[0]]);
          const b = api.coord([v, p.range[1]]);
          children.push({ type: "line", shape: { x1: a[0], y1: a[1], x2: b[0], y2: b[1] }, style: { stroke: "#EBEBEB", lineWidth: w } });
        };
        yMinor.forEach((v) => h(v, 1));
        xMinor.forEach((v) => vl(v, 1));
        p.ticks.forEach((v) => h(v, 2));
        X_TICKS.forEach((v) => vl(v, 2));
        return { type: "group", children };
      },
    });

    const band = (lo: number[], hi: number[], color: string, z: number) => ({
      type: "custom", xAxisIndex: i, yAxisIndex: i, z, silent: true,
      data: AGES.map((a, j) => [a, lo[j], hi[j]]),
      encode: { x: 0, y: [1, 2] },
      renderItem: (params: any, api: any) => {
        if (params.dataIndex !== 0) return null;
        const upper = AGES.map((a, j) => api.coord([a, hi[j]]));
        const lower = AGES.map((a, j) => api.coord([a, lo[j]])).reverse();
        return { type: "polygon", shape: { points: upper.concat(lower) }, style: { fill: color } };
      },
    });
    series.push(band(p.l15, p.h15, RED_BAND, 2));
    series.push(band(p.l30, p.h30, TEAL_BAND, 2));

    series.push({
      type: "scatter", xAxisIndex: i, yAxisIndex: i, z: 3, silent: true,
      data: p.p15, symbolSize: 7.5,
      itemStyle: { color: "rgba(248,118,109,0.38)", borderColor: "rgba(248,118,109,0.8)", borderWidth: 1.1 },
    });
    series.push({
      type: "scatter", xAxisIndex: i, yAxisIndex: i, z: 3, silent: true,
      data: p.p30, symbolSize: 7.5,
      itemStyle: { color: "rgba(0,191,196,0.38)", borderColor: "rgba(0,191,196,0.8)", borderWidth: 1.1 },
    });
    series.push({
      type: "line", xAxisIndex: i, yAxisIndex: i, z: 4, silent: true,
      data: AGES.map((a, j) => [a, p.f15[j]]), symbol: "none", showSymbol: false,
      lineStyle: { color: RED, width: 2.6 },
    });
    series.push({
      type: "line", xAxisIndex: i, yAxisIndex: i, z: 4, silent: true,
      data: AGES.map((a, j) => [a, p.f30[j]]), symbol: "none", showSymbol: false,
      lineStyle: { color: TEAL, width: 2.6 },
    });

    // facet title
    graphic.push({
      type: "text", x: left + GW / 2, y: top - 31, z: 20,
      style: { text: p.title, font: `bold 23.5px ${FONT}`, fill: "#000", textAlign: "center", textVerticalAlign: "middle" },
    });
    // annotations
    graphic.push({
      type: "text", x: left + GW - 20, y: top + GH - 44, z: 20,
      style: { text: "R²=\u00A0 " + p.r2, font: `italic 19px ${FONT}`, fill: "#000", textAlign: "right", textVerticalAlign: "middle" },
    });
    graphic.push({
      type: "text", x: left + GW - 20, y: top + GH - 11.5, z: 20,
      style: { text: p.p, font: `italic 19px ${FONT}`, fill: "#000", textAlign: "right", textVerticalAlign: "middle" },
    });
  });

  // outer frame
  graphic.push({
    type: "rect", shape: { x: 10.5, y: 11.5, width: 1320, height: 1120, r: 14 },
    style: { fill: "none", stroke: "#666666", lineWidth: 1.2 }, z: -1,
  });
  // legend
  graphic.push({ type: "text", x: 465, y: 50, z: 20, style: { text: "Scanner", font: `27px ${FONT}`, fill: "#000", textAlign: "left", textVerticalAlign: "middle" } });
  graphic.push({ type: "rect", shape: { x: 597, y: 27, width: 45, height: 45 }, style: { fill: RED_BAND } });
  graphic.push({ type: "line", shape: { x1: 600, y1: 49.5, x2: 639, y2: 49.5 }, style: { stroke: RED, lineWidth: 2.6 } });
  graphic.push({ type: "text", x: 660, y: 50, z: 20, style: { text: "1.5T", font: `21px ${FONT}`, fill: "#000", textAlign: "left", textVerticalAlign: "middle" } });
  graphic.push({ type: "rect", shape: { x: 727, y: 27, width: 45, height: 45 }, style: { fill: TEAL_BAND } });
  graphic.push({ type: "line", shape: { x1: 730, y1: 49.5, x2: 769, y2: 49.5 }, style: { stroke: TEAL, lineWidth: 2.6 } });
  graphic.push({ type: "text", x: 790, y: 50, z: 20, style: { text: "3.0T", font: `21px ${FONT}`, fill: "#000", textAlign: "left", textVerticalAlign: "middle" } });
  // axis titles
  graphic.push({ type: "text", x: 41, y: 561, rotation: Math.PI / 2, z: 20, style: { text: "Diameter (mm)", font: `27px ${FONT}`, fill: "#000", textAlign: "center", textVerticalAlign: "middle" } });
  graphic.push({ type: "text", x: 700, y: 1033, z: 20, style: { text: "Age (years)", font: `27px ${FONT}`, fill: "#000", textAlign: "center", textVerticalAlign: "middle" } });

  return {
    animation: false,
    backgroundColor: "#ffffff",
    grid, xAxis, yAxis, series, graphic,
  };
}

export default function App() {
  const ref = useRef<HTMLDivElement>(null);
  useEffect(() => {
    if (!ref.current) return;
    const chart = echarts.init(ref.current, undefined, { renderer: "svg" });
    chart.setOption(buildOption() as any);
    return () => chart.dispose();
  }, []);
  return (
    <div
      ref={ref}
      style={{ position: "absolute", left: 0, top: 0, width: 1285, height: 1048, background: "#fff" }}
    />
  );
}
